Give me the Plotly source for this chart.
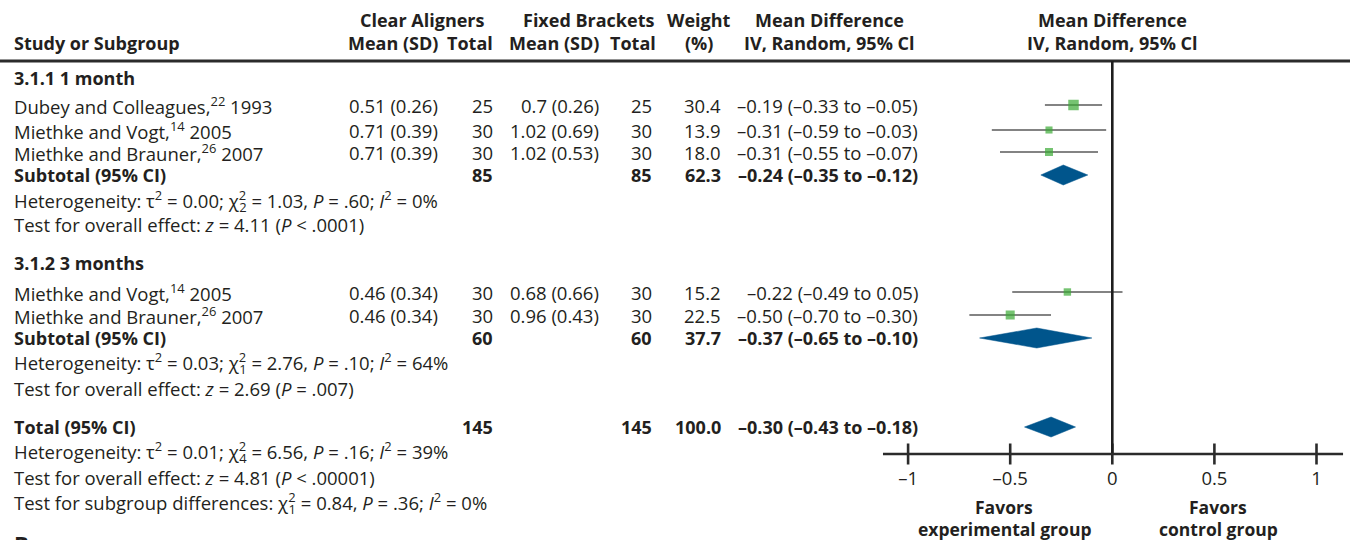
import plotly.graph_objects as go

# ---- study-level data -------------------------------------------------------
studies = [
    "Dubey and Colleagues,<sup>22</sup> 1993",
    "Miethke and Vogt,<sup>14</sup> 2005",
    "Miethke and Brauner,<sup>26</sup> 2007",
    "Miethke and Vogt,<sup>14</sup> 2005",
    "Miethke and Brauner,<sup>26</sup> 2007",
]
clear_mean_sd = ["0.51 (0.26)", "0.71 (0.39)", "0.71 (0.39)", "0.46 (0.34)", "0.46 (0.34)"]
clear_n = [25, 30, 30, 30, 30]
fixed_mean_sd = ["0.7 (0.26)", "1.02 (0.69)", "1.02 (0.53)", "0.68 (0.66)", "0.96 (0.43)"]
fixed_n = [25, 30, 30, 30, 30]
weight = [30.4, 13.9, 18.0, 15.2, 22.5]
md = [-0.19, -0.31, -0.31, -0.22, -0.50]
md_lo = [-0.33, -0.59, -0.55, -0.49, -0.70]
md_hi = [-0.05, -0.03, -0.07, 0.05, -0.30]

# ---- pooled estimates: subtotal 1 month, subtotal 3 months, total ------------
pooled_labels = ["Subtotal (95% CI)", "Subtotal (95% CI)", "Total (95% CI)"]
pooled_clear_n = [85, 60, 145]
pooled_fixed_n = [85, 60, 145]
pooled_weight = [62.3, 37.7, 100.0]
pooled_md = [-0.24, -0.37, -0.30]
pooled_lo = [-0.35, -0.65, -0.43]
pooled_hi = [-0.12, -0.10, -0.18]

group_titles = ["3.1.1 1 month", "3.1.2 3 months"]


def chi2(df):
    # chi-square symbol with the exponent stacked over the degrees of freedom
    return ("χ<sup><span style='letter-spacing:-7px'>2</span></sup>"
            f"<sub>{df}</sub>")


stat_lines = [
    f"Heterogeneity: τ<sup>2</sup> = 0.00; {chi2(2)} = 1.03, <i>P</i> = .60; <i>I</i><sup>2</sup> = 0%",
    "Test for overall effect: <i>z</i> = 4.11 (<i>P</i> &lt; .0001)",
    f"Heterogeneity: τ<sup>2</sup> = 0.03; {chi2(1)} = 2.76, <i>P</i> = .10; <i>I</i><sup>2</sup> = 64%",
    "Test for overall effect: <i>z</i> = 2.69 (<i>P</i> = .007)",
    f"Heterogeneity: τ<sup>2</sup> = 0.01; {chi2(4)} = 6.56, <i>P</i> = .16; <i>I</i><sup>2</sup> = 39%",
    "Test for overall effect: <i>z</i> = 4.81 (<i>P</i> &lt; .00001)",
    f"Test for subgroup differences: {chi2(1)} = 0.84, <i>P</i> = .36; <i>I</i><sup>2</sup> = 0%",
]

tick_vals = [-1, -0.5, 0, 0.5, 1]
tick_text = ["–1", "–0.5", "0", "0.5", "1"]
favors_left = ["Favors", "experimental group"]
favors_right = ["Favors", "control group"]

# ---- layout (pixel rows on a 1352 x 540 canvas) -------------------------------
W, H = 1352, 540
ZERO_PX, UNIT_PX = 1112.3, 204.2           # x pixel of 0 and pixels per unit
study_rows = [105, 130, 152, 292, 315]
pooled_rows = [175, 338, 427]
group_rows = [78, 263]
stat_rows = [201, 224, 363, 388, 452, 477, 503]
favors_rows = [507, 529]
HEAD1, HEAD2, RULE_Y, AXIS_Y = 20, 43, 61, 454

TXT = "#231f20"
GREEN = "#3aaa35"
BLUE = "#00558c"
FONT = "Open Sans"
FS = 18.5
FS_B = 18


def fmt(v):
    return f"{v:.2f}".replace("-", "–")


def ci_text(m, lo, hi):
    return f"{fmt(m)} ({fmt(lo)} to {fmt(hi)})"


annotations = []


def ann(px, py, text, anchor="left", bold=False, size=None, yref="y"):
    if size is None:
        size = FS_B if bold else FS
    annotations.append(dict(
        x=px / W, xref="paper",
        y=py if yref == "y" else 1 - py / H, yref=yref,
        text=f"<b>{text}</b>" if bold else text,
        xanchor=anchor, yanchor="middle", showarrow=False,
        font=dict(family=FONT, size=size, color=TXT),
    ))


# column headers
ann(12, HEAD2, "Study or Subgroup", bold=True)
ann(422, HEAD1, "Clear Aligners", "center", True)
ann(440, HEAD2, "Mean (SD)", "right", True)
ann(495, HEAD2, "Total", "right", True)
ann(588, HEAD1, "Fixed Brackets", "center", True)
ann(601, HEAD2, "Mean (SD)", "right", True)
ann(658, HEAD2, "Total", "right", True)
ann(699, HEAD1, "Weight", "center", True)
ann(699, HEAD2, "(%)", "center", True)
ann(829, HEAD1, "Mean Difference", "center", True)
ann(829, HEAD2, "IV, Random, 95% Cl", "center", True)
ann(1112, HEAD1, "Mean Difference", "center", True)
ann(1112, HEAD2, "IV, Random, 95% Cl", "center", True)

for title, y in zip(group_titles, group_rows):
    ann(12, y, title, bold=True)

for i, y in enumerate(study_rows):
    ann(12, y, studies[i])
    ann(440, y, clear_mean_sd[i], "right")
    ann(495, y, str(clear_n[i]), "right")
    ann(601, y, fixed_mean_sd[i], "right")
    ann(654, y, str(fixed_n[i]), "right")
    ann(723, y, f"{weight[i]:.1f}", "right")
    ann(920, y, ci_text(md[i], md_lo[i], md_hi[i]), "right")

for i, y in enumerate(pooled_rows):
    ann(12, y, pooled_labels[i], bold=True)
    ann(495, y, str(pooled_clear_n[i]), "right", True)
    ann(654, y, str(pooled_fixed_n[i]), "right", True)
    ann(723, y, f"{pooled_weight[i]:.1f}", "right", True)
    ann(920, y, ci_text(pooled_md[i], pooled_lo[i], pooled_hi[i]), "right", True)

for text, y in zip(stat_lines, stat_rows):
    ann(12, y, text)

for line_l, line_r, y in zip(favors_left, favors_right, favors_rows):
    ann(ZERO_PX - 0.53 * UNIT_PX, y, line_l, "center", True, 17.5, yref="paper")
    ann(ZERO_PX + 0.52 * UNIT_PX, y, line_r, "center", True, 17.5, yref="paper")
# panel letter of the following figure part, running off the lower edge
ann(12, 543, "B", bold=True, size=22, yref="paper")

fig = go.Figure()

# confidence intervals of single studies
ci_x, ci_y = [], []
for lo, hi, y in zip(md_lo, md_hi, study_rows):
    ci_x += [lo, hi, None]
    ci_y += [y, y, None]
fig.add_trace(go.Scatter(x=ci_x, y=ci_y, mode="lines",
                         line=dict(color="#5a5a5a", width=1.6),
                         hoverinfo="skip", showlegend=False))

# weighted point estimates
fig.add_trace(go.Scatter(
    x=md, y=study_rows, mode="markers",
    marker=dict(symbol="square", color=GREEN,
                size=[1.9 * w ** 0.5 for w in weight], line=dict(width=0)),
    showlegend=False))

# pooled diamonds
for m, lo, hi, y in zip(pooled_md, pooled_lo, pooled_hi, pooled_rows):
    fig.add_trace(go.Scatter(
        x=[lo, m, hi, m, lo], y=[y, y - 10, y, y + 10, y],
        mode="lines", fill="toself", fillcolor=BLUE,
        line=dict(color=BLUE, width=0.5), showlegend=False))

# tick marks crossing the axis line
fig.add_trace(go.Scatter(
    x=tick_vals, y=[AXIS_Y] * len(tick_vals), mode="markers",
    marker=dict(symbol="line-ns", size=15, line=dict(color="#2b2b2b", width=2.6)),
    hoverinfo="skip", showlegend=False))

shapes = [
    dict(type="line", xref="paper", yref="y", x0=0, x1=1350 / W, y0=RULE_Y, y1=RULE_Y,
         line=dict(color="#2b2b2b", width=3)),
    dict(type="line", xref="x", yref="y", x0=0, x1=0, y0=RULE_Y, y1=AXIS_Y,
         line=dict(color="#1e1e1e", width=2.6)),
    dict(type="line", xref="x", yref="y", x0=-1.123, x1=1.13, y0=AXIS_Y, y1=AXIS_Y,
         line=dict(color="#2b2b2b", width=2.6)),
]

fig.update_layout(
    width=W, height=H,
    margin=dict(l=0, r=0, t=0, b=0),
    paper_bgcolor="white", plot_bgcolor="white",
    shapes=shapes, annotations=annotations,
    xaxis=dict(range=[-ZERO_PX / UNIT_PX, (W - ZERO_PX) / UNIT_PX],
               domain=[0, 1], anchor="free", position=1 - AXIS_Y / H,
               tickvals=tick_vals, ticktext=tick_text, ticks="",
               ticklabelstandoff=11,
               showgrid=False, zeroline=False, showline=False,
               tickfont=dict(family=FONT, size=FS, color=TXT)),
    yaxis=dict(range=[H, 0], domain=[0, 1], visible=False, showgrid=False),
)

fig.write_html("out.html")
